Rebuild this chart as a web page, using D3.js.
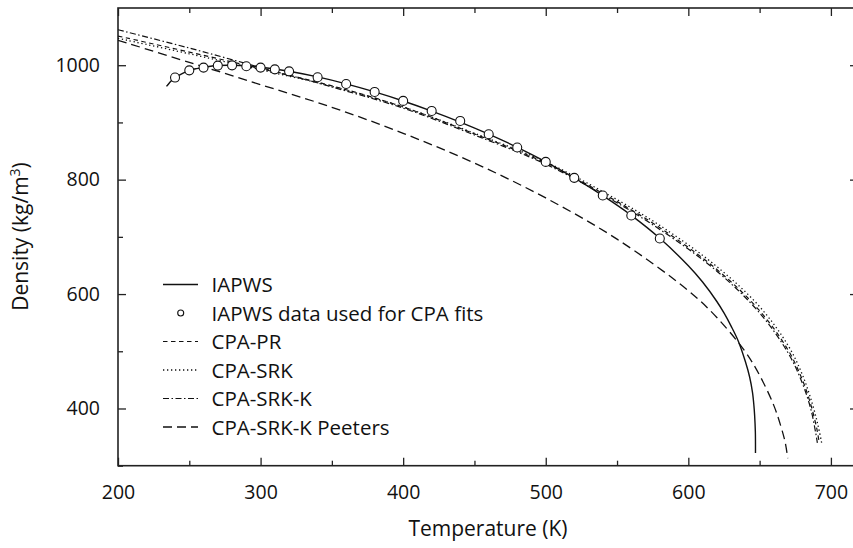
<!DOCTYPE html>
<html>
<head>
	<meta charset="utf-8">
	<title>Water density</title>
	<script src="https://cdn.jsdelivr.net/npm/d3@7"></script>
	<style>
		body { margin: 0; background: #fff; }
		text { font-family: "Open Sans", sans-serif; fill: #111; }
	</style>
</head>
<body>
<script>
	// saturated liquid density of water
	var tIAPWS = [234, 236, 238, 240, 245, 250, 255, 260, 265, 270, 277, 280, 290, 300, 310, 320, 340, 360, 380, 400,
		420, 440, 460, 480, 500, 520, 540, 560, 580, 600, 610, 620, 625, 630, 635, 640, 643, 645, 646, 646.5, 647, 647.1];
	var rhoIAPWS = [963, 969, 974, 978.5, 985.5, 991, 994, 996, 998.3, 999.4, 1000, 999.9, 998.8, 996.5, 993.3, 989.4, 979.5, 967.4, 953.3, 937.5,
		919.9, 900.7, 879.6, 856.5, 831.2, 803, 772, 737.6, 697.5, 649.4, 621, 587, 567, 544, 518, 482, 455, 428, 405, 388, 360, 322];

	// points used for the CPA fits
	var tFit = [240, 250, 260, 270, 280, 290, 300, 310, 320, 340, 360, 380, 400, 420, 440, 460, 480, 500, 520, 540, 560, 580];
	var rhoFit = [978.4, 991, 995.8, 999.3, 999.8, 998.1, 995.8, 992.8, 989.3, 978.9, 967.2, 953.3, 937.6, 920.1, 902.6, 879.4, 856.2, 831, 803.1, 772.3, 737.4, 697.2];

	var tPR = [200, 250, 300, 350, 400, 450, 500, 540, 580, 620, 650, 670, 680, 686, 690, 691.5];
	var rhoPR = [1051, 1023, 994, 964, 927, 880, 829, 776, 716, 643, 571, 502, 450, 406, 366, 345];

	var tSRK = [200, 250, 300, 350, 400, 450, 500, 540, 580, 620, 650, 670, 680, 687, 691, 693.5];
	var rhoSRK = [1047, 1020, 992, 963, 927, 881, 831, 779, 720, 648, 578, 510, 459, 408, 370, 340];

	var tSRKK = [200, 250, 300, 350, 400, 450, 500, 540, 580, 620, 650, 670, 680, 686, 689.5, 690.5];
	var rhoSRKK = [1062, 1030, 996, 962, 925, 878, 827, 774, 713, 640, 567, 497, 444, 398, 355, 340];

	var tPeeters = [200, 250, 300, 350, 400, 450, 500, 550, 600, 620, 640, 650, 660, 665, 668, 669.7];
	var rhoPeeters = [1043.6, 1005, 966, 926.5, 881, 829, 768, 696, 606, 559, 499, 458, 405, 368, 340, 313];

	var xMajor = [200, 300, 400, 500, 600, 700];
	var yMajor = [400, 600, 800, 1000];

	var svgWidth = 853, svgHeight = 548;
	var pLeft = 118, pRight = 858, pTop = 8, pBottom = 465.7;

	var svg = d3.select("body").append("svg")
		.attr("width", svgWidth)
		.attr("height", svgHeight);

	var x = d3.scaleLinear().domain([200, 719]).range([pLeft, pRight]);
	var y = d3.scaleLinear().domain([300, 1100]).range([pBottom, pTop]);

	var xMinor = d3.range(250, 719, 100);
	var yMinor = d3.range(300, 1100, 200);

	function tickAxis(axis, pos, vals, size, labels, pad) {
		var g = svg.append("g")
			.attr("transform", pos)
			.call(axis.tickValues(vals).tickSizeInner(-size).tickSizeOuter(0)
				.tickPadding(pad || 0).tickFormat(labels ? d3.format("d") : ""));
		g.select(".domain").remove();
		g.selectAll("line").attr("stroke", "#222").attr("stroke-width", 1.3);
		g.selectAll("text").style("font-size", "19.5px").attr("fill", "#111");
		return g;
	}

	// inward ticks on all four sides
	tickAxis(d3.axisBottom(x), "translate(0," + pBottom + ")", xMajor, 8, true, 19);
	tickAxis(d3.axisBottom(x), "translate(0," + pBottom + ")", xMinor, 5, false);
	tickAxis(d3.axisTop(x), "translate(0," + pTop + ")", xMajor, 8, false);
	tickAxis(d3.axisTop(x), "translate(0," + pTop + ")", xMinor, 5, false);
	tickAxis(d3.axisLeft(y), "translate(" + pLeft + ",0)", yMajor, 8, true, 18);
	tickAxis(d3.axisLeft(y), "translate(" + pLeft + ",0)", yMinor, 5, false);
	tickAxis(d3.axisRight(y), "translate(" + pRight + ",0)", yMajor, 8, false);
	tickAxis(d3.axisRight(y), "translate(" + pRight + ",0)", yMinor, 5, false);

	svg.append("rect")
		.attr("x", pLeft).attr("y", pTop)
		.attr("width", pRight - pLeft).attr("height", pBottom - pTop)
		.attr("fill", "none").attr("stroke", "#222").attr("stroke-width", 1.6);

	svg.append("clipPath").attr("id", "plot")
		.append("rect").attr("x", pLeft).attr("y", pTop)
		.attr("width", pRight - pLeft).attr("height", pBottom - pTop);

	var line = d3.line()
		.x(function(d) { return x(d[0]); })
		.y(function(d) { return y(d[1]); })
		.curve(d3.curveCatmullRom.alpha(0.5));

	var series = [
		{name: "CPA-PR", t: tPR, rho: rhoPR, dash: "4.5,3.5", w: 1.2},
		{name: "CPA-SRK", t: tSRK, rho: rhoSRK, dash: "1.3,2.7", w: 1.3},
		{name: "CPA-SRK-K", t: tSRKK, rho: rhoSRKK, dash: "6,2.5,1.5,2.5", w: 1.2},
		{name: "CPA-SRK-K Peeters", t: tPeeters, rho: rhoPeeters, dash: "9,5", w: 1.3}
	];

	var plot = svg.append("g").attr("clip-path", "url(#plot)");

	series.forEach(function(s) {
		plot.append("path")
			.datum(d3.zip(s.t, s.rho))
			.attr("d", line)
			.attr("fill", "none")
			.attr("stroke", "#111")
			.attr("stroke-width", s.w)
			.attr("stroke-dasharray", s.dash);
	});

	plot.append("path")
		.datum(d3.zip(tIAPWS, rhoIAPWS))
		.attr("d", line)
		.attr("fill", "none")
		.attr("stroke", "#111")
		.attr("stroke-width", 1.4);

	plot.selectAll("circle.fit")
		.data(d3.zip(tFit, rhoFit))
		.enter()
		.append("circle")
		.attr("class", "fit")
		.attr("cx", function(d) { return x(d[0]); })
		.attr("cy", function(d) { return y(d[1]); })
		.attr("r", 4.5)
		.attr("fill", "#fff")
		.attr("stroke", "#111")
		.attr("stroke-width", 1.1);

	// legend
	var legendRows = [
		{label: "IAPWS", kind: "line", dash: null, w: 1.4},
		{label: "IAPWS data used for CPA fits", kind: "circle"},
		{label: "CPA-PR", kind: "line", dash: series[0].dash, w: 1.2},
		{label: "CPA-SRK", kind: "line", dash: series[1].dash, w: 1.3},
		{label: "CPA-SRK-K", kind: "line", dash: series[2].dash, w: 1.2},
		{label: "CPA-SRK-K Peeters", kind: "line", dash: series[3].dash, w: 1.3}
	];

	var legend = svg.append("g");
	legendRows.forEach(function(r, i) {
		var base = 292 + i * 28.5;
		if (r.kind == "line") {
			legend.append("line")
				.attr("x1", 163).attr("x2", 198)
				.attr("y1", base - 7.5).attr("y2", base - 7.5)
				.attr("stroke", "#111")
				.attr("stroke-width", r.w)
				.attr("stroke-dasharray", r.dash);
		} else {
			legend.append("circle")
				.attr("cx", 180.7).attr("cy", base - 7.5).attr("r", 3)
				.attr("fill", "#fff").attr("stroke", "#111").attr("stroke-width", 1.1);
		}
		legend.append("text")
			.attr("x", 211.5).attr("y", base)
			.style("font-size", "20.5px")
			.text(r.label);
	});

	// axis titles
	svg.append("text")
		.attr("x", (pLeft + pRight) / 2).attr("y", 536)
		.attr("text-anchor", "middle")
		.style("font-size", "21px")
		.text("Temperature (K)");

	var yt = svg.append("text")
		.attr("transform", "translate(28,236.5) rotate(-90)")
		.attr("text-anchor", "middle")
		.style("font-size", "21px");
	yt.append("tspan").text("Density (kg/m");
	yt.append("tspan").attr("dy", -8).style("font-size", "14px").text("3");
	yt.append("tspan").attr("dy", 8).text(")");
</script>
</body>
</html>
